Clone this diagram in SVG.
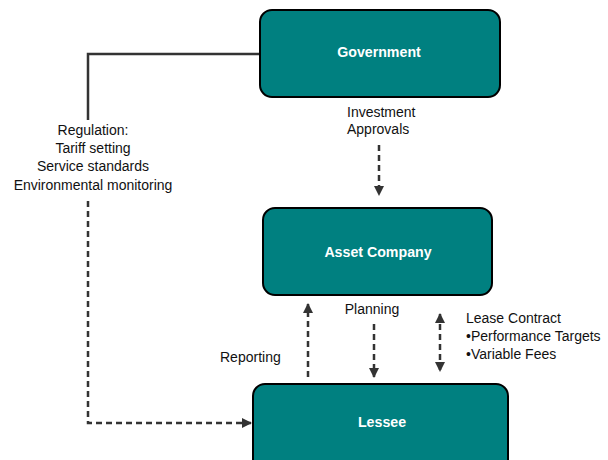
<svg xmlns="http://www.w3.org/2000/svg" width="608" height="460" viewBox="0 0 608 460">
<style>
.box{fill:#008080;stroke:#000;stroke-width:2}
.bt{font-family:"Liberation Sans",Arial,sans-serif;font-size:14.2px;font-weight:bold;fill:#fff;text-anchor:middle}
.lb{font-family:"Liberation Sans",Arial,sans-serif;font-size:14px;fill:#111}
.c{stroke:#333;stroke-width:2.5;fill:none}
.d{stroke-dasharray:6,4}
</style>
<defs>
<marker id="ah" viewBox="0 0 10 10" refX="9" refY="5" markerWidth="4" markerHeight="4" orient="auto-start-reverse" markerUnits="strokeWidth">
<path d="M0,0 L10,5 L0,10 z" fill="#333"/>
</marker>
</defs>
<rect width="608" height="460" fill="#fff"/>
<g id="connectors">
<polyline class="c" points="260,54 88,54 88,120"/>
<polyline class="c d" points="88,201 88,423 251,423" marker-end="url(#ah)"/>
<line class="c d" x1="379" y1="145" x2="379" y2="195" marker-end="url(#ah)"/>
<line class="c d" x1="308" y1="377" x2="308" y2="304" marker-end="url(#ah)"/>
<line class="c d" x1="374" y1="324" x2="374" y2="377" marker-end="url(#ah)"/>
<line class="c d" x1="440" y1="314" x2="440" y2="371" marker-start="url(#ah)" marker-end="url(#ah)"/>
</g>
<g id="government">
<rect class="box" x="260" y="10" width="240" height="87" rx="12"/>
<text class="bt" x="379" y="57">Government</text>
</g>
<g id="asset-company">
<rect class="box" x="263" y="208" width="229" height="87" rx="12"/>
<text class="bt" x="378" y="257">Asset Company</text>
</g>
<g id="lessee">
<rect class="box" x="253" y="384" width="255" height="90" rx="12"/>
<text class="bt" x="382" y="427">Lessee</text>
</g>
<g id="labels">
<text class="lb" x="347" y="117">Investment</text>
<text class="lb" x="347" y="134">Approvals</text>
<text class="lb" text-anchor="middle" x="93" y="135">Regulation:</text>
<text class="lb" text-anchor="middle" x="93" y="153">Tariff setting</text>
<text class="lb" text-anchor="middle" x="93" y="171">Service standards</text>
<text class="lb" text-anchor="middle" x="93" y="190">Environmental monitoring</text>
<text class="lb" text-anchor="middle" x="372" y="314">Planning</text>
<text class="lb" x="220" y="362">Reporting</text>
<text class="lb" x="466" y="323">Lease Contract</text>
<text class="lb" x="466" y="341">•Performance Targets</text>
<text class="lb" x="466" y="359">•Variable Fees</text>
</g>
</svg>
